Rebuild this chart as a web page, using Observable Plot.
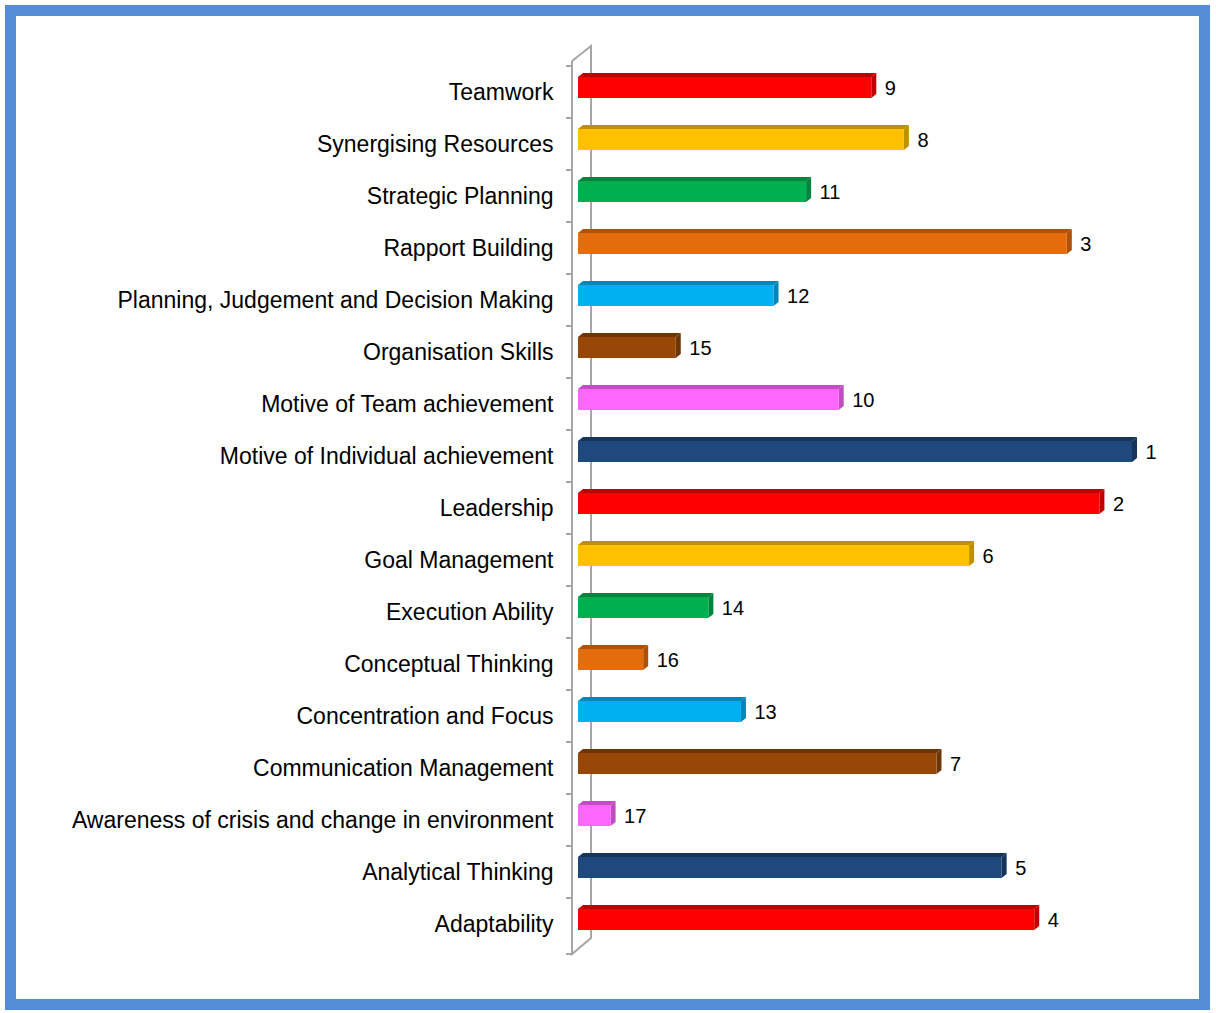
<!DOCTYPE html>
<html>
<head>
<meta charset="utf-8">
<script src="https://cdn.jsdelivr.net/npm/d3@7"></script>
<script src="https://cdn.jsdelivr.net/npm/@observablehq/plot@0.6"></script>
<style>
  html, body { margin: 0; padding: 0; background: #fff; }
  #wrap { position: relative; width: 1216px; height: 1013px; }
  #border { position: absolute; left: 5px; top: 5px; width: 1205px; height: 1005px;
            border: 11px solid #548dd4; box-sizing: border-box; pointer-events: none; }
  #chart svg { display: block; }
</style>
</head>
<body>
<div id="wrap"><div id="chart"></div><div id="border"></div></div>
<script>
const categories = [
  "Teamwork", "Synergising Resources", "Strategic Planning", "Rapport Building",
  "Planning, Judgement and Decision Making", "Organisation Skills",
  "Motive of Team achievement", "Motive of Individual achievement", "Leadership",
  "Goal Management", "Execution Ability", "Conceptual Thinking",
  "Concentration and Focus", "Communication Management",
  "Awareness of crisis and change in environment", "Analytical Thinking", "Adaptability"
];
const values = [9, 10, 7, 15, 6, 3, 8, 17, 16, 12, 4, 2, 5, 11, 1, 13, 14];
const rankLabels = ["9", "8", "11", "3", "12", "15", "10", "1", "2", "6", "14", "16", "13", "7", "17", "5", "4"];
const palette = ["#ff0000", "#ffc000", "#00b050", "#e46c0a", "#00b0f0", "#974806", "#ff66ff", "#1f497d"];
const darkPalette = ["#c00000", "#bf9000", "#00863c", "#ad5208", "#0086b8", "#6e3504", "#c04ec0", "#15355c"];

const data = categories.map((c, i) => ({
  category: c, value: values[i], rank: rankLabels[i],
  color: palette[i % 8], dark: darkPalette[i % 8]
}));

const W = 1216, H = 1013;
const DX = 5, DY = -4; // 3D depth offsets

function bars3d(index, scales, values, dimensions) {
  const g = d3.create("svg:g");
  const x0 = scales.x(0);
  for (const i of index) {
    const d = data[i];
    const y0 = scales.y(d.category) + 11;
    const y1 = y0 + 21;
    const x1 = scales.x(d.value);
    g.append("polygon")
      .attr("points", `${x0},${y0} ${x1},${y0} ${x1 + DX},${y0 + DY} ${x0 + DX},${y0 + DY}`)
      .attr("fill", d.dark);
    g.append("polygon")
      .attr("points", `${x1},${y0} ${x1 + DX},${y0 + DY} ${x1 + DX},${y1 + DY} ${x1},${y1}`)
      .attr("fill", d.dark);
    g.append("rect")
      .attr("x", x0).attr("y", y0).attr("width", x1 - x0).attr("height", y1 - y0)
      .attr("fill", d.color);
  }
  return g.node();
}

function wall(index, scales, values, dimensions) {
  const g = d3.create("svg:g").attr("stroke", "#a6a6a6").attr("stroke-width", 2).attr("fill", "none");
  const x0 = scales.x(0) - 6;
  const top = dimensions.marginTop;
  const bottom = dimensions.height - dimensions.marginBottom;
  const bx = x0 + 19, byTop = top - 15, byBot = bottom - 16;
  g.append("path").attr("d", `M${x0},${top}L${x0},${bottom}L${bx},${byBot}L${bx},${byTop}L${x0},${top}`);
  const edges = categories.map(c => scales.y(c)).concat([bottom]);
  for (const e of edges) {
    g.append("line").attr("x1", x0 - 6).attr("x2", x0).attr("y1", e).attr("y2", e);
  }
  return g.node();
}

const chart = Plot.plot({
  width: W,
  height: H,
  marginLeft: 578,
  marginRight: 84,
  marginTop: 61,
  marginBottom: 59,
  style: { fontFamily: "'Liberation Sans', Arial, sans-serif", background: "transparent" },
  x: { domain: [0, 17], axis: null },
  y: { domain: categories, padding: 0, axis: null },
  marks: [
    Plot.barX(data, { x: "value", y: "category", render: wall }),
    Plot.barX(data, { x: "value", y: "category", render: bars3d }),
    Plot.text(data, {
      x: 0, y: "category", text: "category", textAnchor: "end", dx: -25, dy: 0,
      fontSize: 23, fill: "#000"
    }),
    Plot.text(data, {
      x: "value", y: "category", text: "rank", textAnchor: "start", dx: 13, dy: -4,
      fontSize: 20, fill: "#000"
    })
  ]
});
document.getElementById("chart").appendChild(chart);
</script>
</body>
</html>
